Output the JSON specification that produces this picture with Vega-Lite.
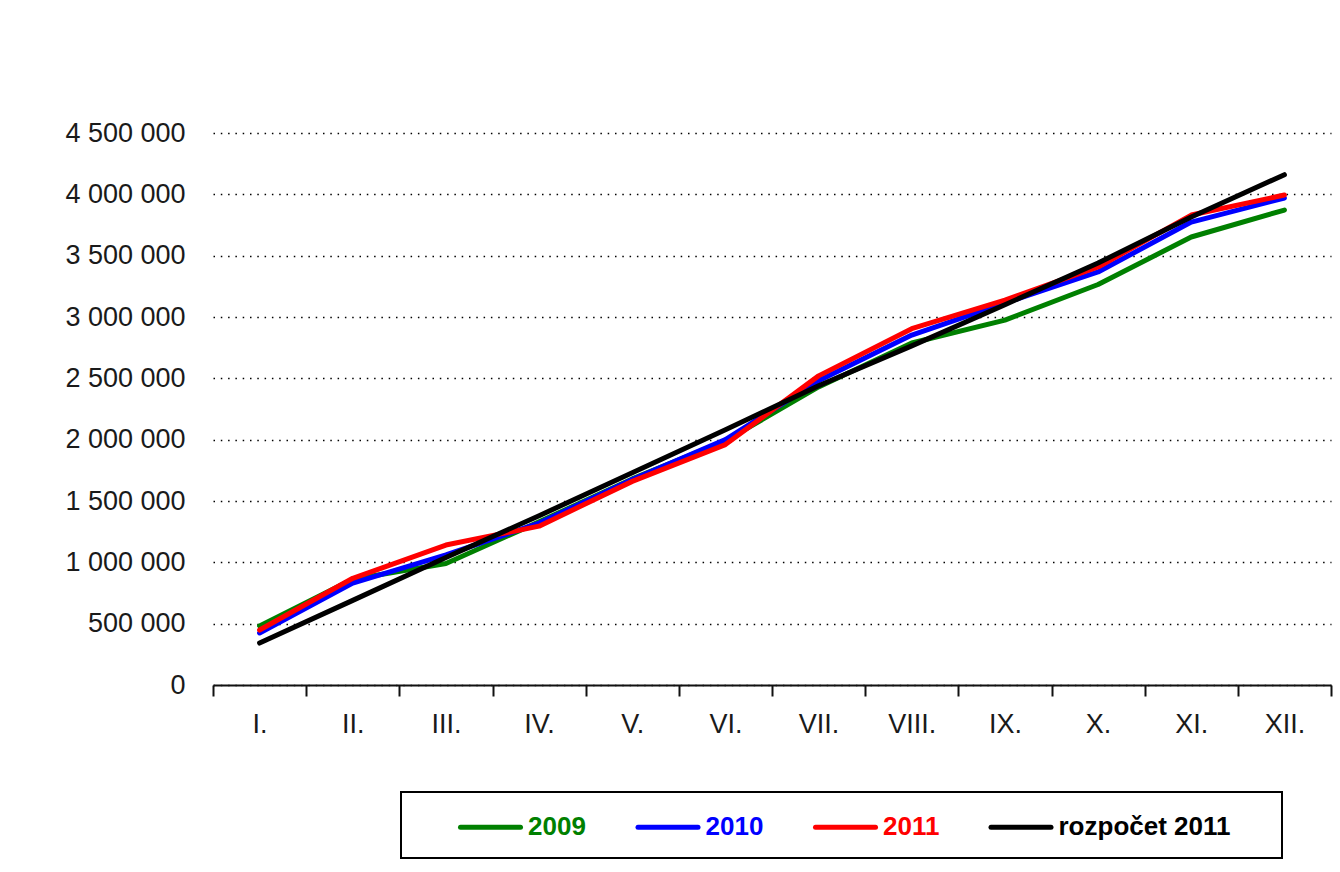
{
  "$schema": "https://vega.github.io/schema/vega-lite/v6.json",
  "width": 1118,
  "height": 552,
  "autosize": {"type": "none"},
  "padding": {"left": 213, "top": 133, "right": 9, "bottom": 187},
  "background": "white",
  "config": {
    "locale": {"number": {"decimal": ",", "thousands": " ", "grouping": [3], "currency": ["", ""]}},
    "view": {"stroke": null},
    "font": "Liberation Sans, Arial, sans-serif"
  },
  "data": {
    "values": [
      {"mesic": "I.", "rada": "2009", "hodnota": 481000},
      {"mesic": "II.", "rada": "2009", "hodnota": 862000},
      {"mesic": "III.", "rada": "2009", "hodnota": 990000},
      {"mesic": "IV.", "rada": "2009", "hodnota": 1330000},
      {"mesic": "V.", "rada": "2009", "hodnota": 1680000},
      {"mesic": "VI.", "rada": "2009", "hodnota": 1990000},
      {"mesic": "VII.", "rada": "2009", "hodnota": 2430000},
      {"mesic": "VIII.", "rada": "2009", "hodnota": 2788000},
      {"mesic": "IX.", "rada": "2009", "hodnota": 2975000},
      {"mesic": "X.", "rada": "2009", "hodnota": 3265000},
      {"mesic": "XI.", "rada": "2009", "hodnota": 3652000},
      {"mesic": "XII.", "rada": "2009", "hodnota": 3872000},
      {"mesic": "I.", "rada": "2010", "hodnota": 424000},
      {"mesic": "II.", "rada": "2010", "hodnota": 831000},
      {"mesic": "III.", "rada": "2010", "hodnota": 1060000},
      {"mesic": "IV.", "rada": "2010", "hodnota": 1320000},
      {"mesic": "V.", "rada": "2010", "hodnota": 1675000},
      {"mesic": "VI.", "rada": "2010", "hodnota": 2000000},
      {"mesic": "VII.", "rada": "2010", "hodnota": 2480000},
      {"mesic": "VIII.", "rada": "2010", "hodnota": 2853000},
      {"mesic": "IX.", "rada": "2010", "hodnota": 3114000},
      {"mesic": "X.", "rada": "2010", "hodnota": 3367000},
      {"mesic": "XI.", "rada": "2010", "hodnota": 3774000},
      {"mesic": "XII.", "rada": "2010", "hodnota": 3970000},
      {"mesic": "I.", "rada": "2011", "hodnota": 448000},
      {"mesic": "II.", "rada": "2011", "hodnota": 870000},
      {"mesic": "III.", "rada": "2011", "hodnota": 1141000},
      {"mesic": "IV.", "rada": "2011", "hodnota": 1295000},
      {"mesic": "V.", "rada": "2011", "hodnota": 1660000},
      {"mesic": "VI.", "rada": "2011", "hodnota": 1960000},
      {"mesic": "VII.", "rada": "2011", "hodnota": 2520000},
      {"mesic": "VIII.", "rada": "2011", "hodnota": 2905000},
      {"mesic": "IX.", "rada": "2011", "hodnota": 3138000},
      {"mesic": "X.", "rada": "2011", "hodnota": 3408000},
      {"mesic": "XI.", "rada": "2011", "hodnota": 3831000},
      {"mesic": "XII.", "rada": "2011", "hodnota": 3994000},
      {"mesic": "I.", "rada": "rozpočet 2011", "hodnota": 342000},
      {"mesic": "II.", "rada": "rozpočet 2011", "hodnota": 690000},
      {"mesic": "III.", "rada": "rozpočet 2011", "hodnota": 1040000},
      {"mesic": "IV.", "rada": "rozpočet 2011", "hodnota": 1380000},
      {"mesic": "V.", "rada": "rozpočet 2011", "hodnota": 1730000},
      {"mesic": "VI.", "rada": "rozpočet 2011", "hodnota": 2080000},
      {"mesic": "VII.", "rada": "rozpočet 2011", "hodnota": 2440000},
      {"mesic": "VIII.", "rada": "rozpočet 2011", "hodnota": 2765000},
      {"mesic": "IX.", "rada": "rozpočet 2011", "hodnota": 3100000},
      {"mesic": "X.", "rada": "rozpočet 2011", "hodnota": 3440000},
      {"mesic": "XI.", "rada": "rozpočet 2011", "hodnota": 3815000},
      {"mesic": "XII.", "rada": "rozpočet 2011", "hodnota": 4160000}
    ]
  },
  "mark": {"type": "line", "interpolate": "linear", "strokeCap": "round", "strokeJoin": "round"},
  "encoding": {
    "x": {
      "field": "mesic",
      "type": "ordinal",
      "sort": ["I.", "II.", "III.", "IV.", "V.", "VI.", "VII.", "VIII.", "IX.", "X.", "XI.", "XII."],
      "scale": {"type": "band", "paddingInner": 0, "paddingOuter": 0},
      "bandPosition": 0.5,
      "axis": {
        "title": null,
        "tickBand": "extent",
        "grid": false,
        "domainColor": "#111111",
        "domainWidth": 2,
        "tickColor": "#111111",
        "tickWidth": 2,
        "tickSize": 11,
        "labelAngle": 0,
        "labelFontSize": 27,
        "labelColor": "#1a1a1a",
        "labelPadding": 15
      }
    },
    "y": {
      "field": "hodnota",
      "type": "quantitative",
      "scale": {"domain": [0, 4500000], "nice": false},
      "axis": {
        "title": null,
        "values": [0, 500000, 1000000, 1500000, 2000000, 2500000, 3000000, 3500000, 4000000, 4500000],
        "format": ",d",
        "domain": false,
        "ticks": false,
        "labelPadding": 28,
        "labelFontSize": 27,
        "labelColor": "#1a1a1a",
        "gridColor": "#000000",
        "gridDash": [1.5, 5.8],
        "gridWidth": 1.5
      }
    },
    "color": {
      "field": "rada",
      "type": "nominal",
      "sort": ["2009", "2010", "2011", "rozpočet 2011"],
      "scale": {"domain": ["2009", "2010", "2011", "rozpočet 2011"], "range": ["#008000", "#0000ff", "#ff0000", "#000000"]},
      "legend": {
        "title": " ",
        "titleOrient": "right",
        "titlePadding": 34,
        "titleFontSize": 26,
        "orient": "none",
        "legendX": 188,
        "legendY": 659,
        "direction": "horizontal",
        "columns": 4,
        "symbolType": "M-2,0H2",
        "symbolSize": 900,
        "symbolOffset": 54.5,
        "symbolFillColor": "transparent",
        "labelOffset": 20,
        "columnPadding": 9.5,
        "padding": 17.5,
        "strokeColor": "#000000",
        "labelFontSize": 26,
        "labelFontWeight": "bold",
        "labelLimit": 400,
        "encode": {
          "labels": {"update": {"fill": {"signal": "scale('color', datum.value)"}}},
          "symbols": {"update": {"strokeWidth": {"signal": "datum.value === 'rozpočet 2011' ? 3 : 5"}, "strokeCap": {"value": "round"}, "fill": {"value": "transparent"}}},
          "legend": {"update": {"strokeWidth": {"value": 2}}}
        }
      }
    },
    "strokeWidth": {
      "field": "rada",
      "type": "nominal",
      "scale": {"domain": ["2009", "2010", "2011", "rozpočet 2011"], "range": [5, 5, 5, 3]},
      "legend": null
    }
  }
}
